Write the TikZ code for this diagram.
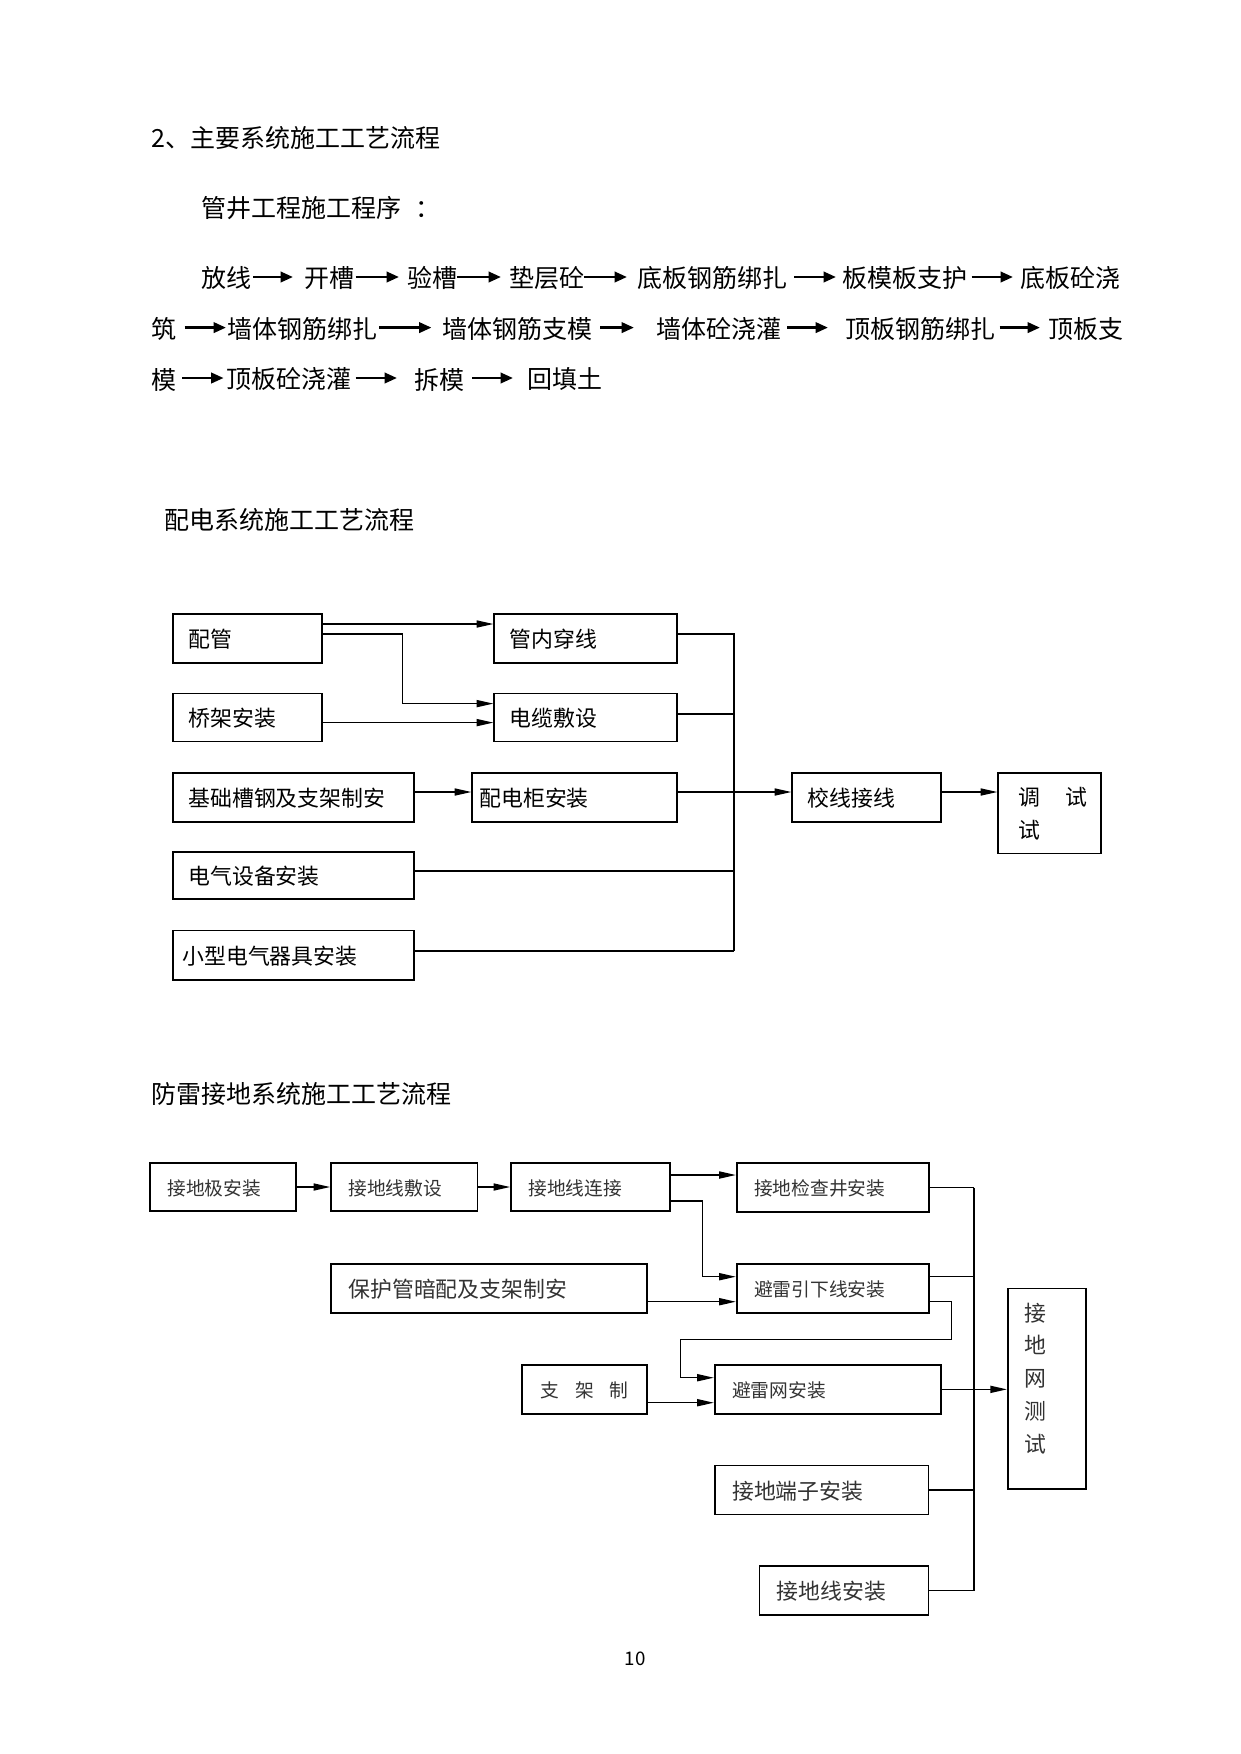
\documentclass[tikz,border=0pt]{standalone}
\usepackage{fontspec}
\setmainfont{Noto Sans CJK SC}
\usetikzlibrary{arrows.meta}
\newcommand{\mybx}[9]{%
  \node[#1, minimum width={(#5-#3)*0.48pt}, minimum height={(#6-#4)*0.48pt}, inner sep=0pt] (#2) at ({(#3+#5)/2},{(#4+#6)/2}) {};
  \node[#7] (#2t) at ({#3+#8},{(#4+#6)/2+1}) {#9};}
\begin{document}
\begin{tikzpicture}[x=0.48pt,y=-0.48pt,
  tx12/.style={font=\fontsize{12pt}{14pt}\selectfont, inner sep=0pt, anchor=west},
  dbox/.style={draw, line width=0.6pt},
  lbox/.style={draw, line width=0.8pt},
  dtxt/.style={font=\fontsize{10.5pt}{12pt}\selectfont, inner sep=0pt, anchor=west},
  ltxt/.style={font=\fontsize{9pt}{11pt}\selectfont, inner sep=0pt, anchor=west, text=black!80},
  ltxtb/.style={font=\fontsize{10.5pt}{12pt}\selectfont, inner sep=0pt, anchor=west, text=black!80},
  darr/.style={line width=0.6pt, -{Triangle[length=8pt,width=3.4pt]}},
  dline/.style={line width=0.6pt},
  larr/.style={line width=0.7pt, -{Triangle[length=8pt,width=3.4pt]}},
  lline/.style={line width=0.7pt},
  bus/.style={line width=1.3pt},
  tarr/.style={line width=1.3pt, -{Triangle[length=6pt,width=5pt]}}]
\useasboundingbox (0,0) rectangle (1241,1754);

% ---- heading text ----
\node[tx12] (h1) at (151,138) {2、主要系统施工工艺流程};
\node[tx12] (h2) at (201,208) {管井工程施工程序\hspace{7pt}：};

% line 1
\node[tx12] (a1) at (201,278) {放线};
\draw[tarr] (253,277) -- (293,277);
\node[tx12] (a2) at (304,278) {开槽};
\draw[tarr] (355.5,277) -- (399,277);
\node[tx12] (a3) at (407,278) {验槽};
\draw[tarr] (457,277) -- (501,277);
\node[tx12] (a4) at (509,278) {垫层砼};
\draw[tarr] (583.6,277) -- (627,277);
\node[tx12] (a5) at (637,278) {底板钢筋绑扎};
\draw[tarr] (794,277) -- (836,277);
\node[tx12] (a6) at (842,278) {板模板支护};
\draw[tarr] (971.5,277) -- (1013,277);
\node[tx12] (a7) at (1020,278) {底板砼浇};
% line 2
\node[tx12] (b1) at (151,329) {筑};
\draw[tarr] (184.5,327.6) -- (226,327.6);
\node[tx12] (b2) at (227,329) {墙体钢筋绑扎};
\draw[tarr] (379,327.6) -- (431.5,327.6);
\node[tx12] (b3) at (442,329) {墙体钢筋支模};
\draw[tarr] (600,327.6) -- (634,327.6);
\node[tx12] (b4) at (656,329) {墙体砼浇灌};
\draw[tarr] (787,327.6) -- (828,327.6);
\node[tx12] (b5) at (845,329) {顶板钢筋绑扎};
\draw[tarr] (999.5,327.6) -- (1040,327.6);
\node[tx12] (b6) at (1047.6,329) {顶板支};
% line 3
\node[tx12] (c1) at (151,379.5) {模};
\draw[tarr] (182,378) -- (223.6,378);
\node[tx12] (c2) at (226,379.5) {顶板砼浇灌};
\draw[tarr] (355.5,378) -- (397,378);
\node[tx12] (c3) at (413.6,379.5) {拆模};
\draw[tarr] (472,378) -- (513,378);
\node[tx12] (c4) at (526.6,379.5) {回填土};

% ---- distribution ----
\node[tx12] (t2) at (164,520) {配电系统施工工艺流程};

\mybx{dbox}{pg}{173}{614}{322}{663}{dtxt}{15}{配管}
\mybx{dbox}{gnc}{494}{614}{677}{663}{dtxt}{15}{管内穿线}
\mybx{dbox}{qj}{173}{693.5}{322}{741.6}{dtxt}{15}{桥架安装}
\mybx{dbox}{dl}{494}{693.5}{677}{741.6}{dtxt}{15}{电缆敷设}
\mybx{dbox}{jc}{173}{773}{414}{822}{dtxt}{15}{基础槽钢及支架制安}
\mybx{dbox}{pdg}{472}{773}{677}{822}{dtxt}{7}{配电柜安装}
\mybx{dbox}{dq}{173}{852}{414}{899}{dtxt}{15}{电气设备安装}
\mybx{dbox}{xx}{173}{930.7}{414}{980}{dtxt}{9}{小型电气器具安装}
\mybx{dbox}{jx}{792}{773}{941}{822}{dtxt}{15}{校线接线}
\node[dbox, minimum width={103*0.48pt}, minimum height={80.6*0.48pt}, inner sep=0pt] (ts) at (1049.5,813.3) {};
\node[dtxt] (ts1) at (1018,797) {调\hspace{12pt}试};
\node[dtxt] (ts2) at (1018,830) {试};

\draw[darr] (pg.east|-0,624) -- (gnc.west|-0,624);
\draw[darr] (pg.east|-0,634) -| (402.7,703.6) -- (dl.west|-0,703.6);
\draw[darr] (qj.east|-0,722.6) -- (dl.west|-0,722.6);
\draw[darr] (jc.east|-0,792) -- (pdg.west|-0,792);
\draw[dline] (gnc.east|-0,634) -- (734,634) -- (734,951);
\draw[dline] (dl.east|-0,714) -- (734,714);
\draw[darr] (pdg.east|-0,792) -- (jx.west|-0,792);
\draw[dline] (dq.east|-0,871) -- (734,871);
\draw[dline] (xx.east|-0,951) -- (734,951);
\draw[darr] (jx.east|-0,792) -- (ts.west|-0,792);

% ---- lightning / grounding ----
\node[tx12] (t3) at (151,1094) {防雷接地系统施工工艺流程};

\mybx{lbox}{jdj}{150}{1163}{296}{1211}{ltxt}{17}{接地极安装}
\mybx{lbox}{fs}{331}{1163}{477.6}{1211}{ltxt}{17}{接地线敷设}
\mybx{lbox}{lj}{511}{1163}{670}{1211}{ltxt}{17}{接地线连接}
\mybx{lbox}{jcj}{736.7}{1163}{929}{1212}{ltxt}{17}{接地检查井安装}
\mybx{lbox}{bhg}{331}{1264}{647}{1313}{ltxtb}{17}{保护管暗配及支架制安}
\mybx{lbox}{yxx}{736.7}{1264}{929}{1312.7}{ltxt}{17}{避雷引下线安装}
\mybx{lbox}{zjz}{522}{1365}{647}{1414}{ltxt}{18}{支\hspace{0.85em}架\hspace{0.85em}制}
\mybx{lbox}{blw}{714.7}{1365}{941}{1413.7}{ltxt}{17}{避雷网安装}
\mybx{lbox}{dz}{714.8}{1465.4}{928.5}{1514.6}{ltxtb}{17}{接地端子安装}
\mybx{lbox}{jdxaz}{759.5}{1566}{928.5}{1615}{ltxtb}{17}{接地线安装}
\node[lbox, minimum width={78.2*0.48pt}, minimum height={200.5*0.48pt}, inner sep=0pt] (jdw) at (1046.9,1388.75) {};
\node[font=\fontsize{10.5pt}{15.8pt}\selectfont, text=black!80, inner sep=0pt, align=center] (jdwt) at (1035,1378.5) {接\\地\\网\\测\\试};

\draw[larr] (jdj.east) -- (fs.west);
\draw[larr] (fs.east) -- (lj.west);
\draw[larr] (lj.east|-0,1175) -- (jcj.west|-0,1175);
\draw[larr] (lj.east|-0,1201) -| (702.7,1276.7) -- (yxx.west|-0,1276.7);
\draw[larr] (bhg.east|-0,1301.7) -- (yxx.west|-0,1301.7);
\draw[larr] (yxx.east|-0,1301.7) -| (951.7,1339.3) -| (680.7,1377.7) -- (blw.west|-0,1377.7);
\draw[larr] (zjz.east|-0,1402.7) -- (blw.west|-0,1402.7);
\coordinate (bt) at (974,1187.5);
\coordinate (bb) at (974,1590.5);
\draw[bus] (bt) -- (bb);
\draw[lline] (jcj.east) -- (bt);
\draw[lline] (yxx.east|-0,1276.7) -- (974,1276.7);
\draw[larr] (blw.east) -- (jdw.west|-blw.east);
\draw[lline] (dz.east) -- (dz.east-|bt);
\draw[lline] (jdxaz.east) -- (bb);

\node[font=\fontsize{9pt}{10pt}\selectfont, inner sep=0pt] (pn) at (635,1659) {10};
\end{tikzpicture}
\end{document}
